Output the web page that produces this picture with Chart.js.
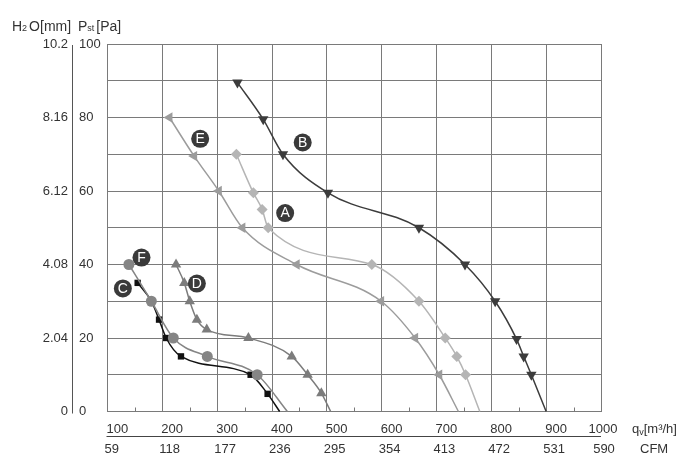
<!DOCTYPE html>
<html>
<head>
<meta charset="utf-8">
<script src="https://cdn.jsdelivr.net/npm/chart.js@4.4.0/dist/chart.umd.min.js"></script>
<style>
  body { margin: 0; background: #fff; }
  #wrap { width: 700px; height: 465px; }
</style>
</head>
<body>
<div id="wrap"><canvas id="fan" width="700" height="465"></canvas></div>
<script>
// eixos
const qvTicks = [100, 200, 300, 400, 500, 600, 700, 800, 900, 1000];
const cfmLabels = ['59', '118', '177', '236', '295', '354', '413', '472', '531', '590'];
const paTicks = [0, 20, 40, 60, 80, 100];
const mmLabels = ['0', '2.04', '4.08', '6.12', '8.16', '10.2'];

// curvas (qv m3/h, Pst Pa)
const aQv = [335, 366, 382, 393, 582, 668, 716, 737, 753, 779];
const aPa = [70, 59.5, 55, 50, 40, 30, 20, 15, 10, 0];
const bQv = [337, 384, 420, 502, 668, 752, 807, 846, 859, 873, 900];
const bPa = [89.5, 79.5, 70, 59.5, 50, 40, 30, 19.7, 15, 10, 0];
const cQv = [155, 180, 194, 207, 234, 361, 392, 414];
const cPa = [35, 30, 25, 20, 15, 10, 4.8, 0];
const dQv = [225, 240, 250, 263, 281, 357, 436, 465, 490, 507];
const dPa = [40, 35, 30, 25, 22.3, 20, 15, 10, 5, 0];
const eQv = [213, 258, 303, 346, 445, 599, 661, 705, 740];
const ePa = [80, 69.5, 60, 50, 40, 30, 20, 10, 0];
const fQv = [139, 180, 220, 282, 373, 428];
const fPa = [40, 30, 20, 15, 10, 0];

// etiquetas das curvas
const tagNames = ['A', 'B', 'C', 'D', 'E', 'F'];
const tagQv = [424, 456, 128, 263, 269, 162];
const tagPa = [54, 73.2, 33.5, 34.8, 74.2, 41.9];

const FONT = '"Liberation Sans", Arial, sans-serif';
const TEXT = '#333';

function pts(xs, ys) {
  return xs.map((x, i) => ({ x: x, y: ys[i] }));
}

function curve(label, xs, ys, color, style, rot, r) {
  const last = xs.length - 1;
  return {
    label: label,
    data: pts(xs, ys),
    borderColor: color,
    backgroundColor: color,
    borderWidth: 1.5,
    pointStyle: style,
    rotation: rot,
    pointRadius: c => c.dataIndex === last ? 0 : r,
    pointBorderWidth: 0,
    cubicInterpolationMode: 'monotone',
    clip: false
  };
}

const extras = {
  id: 'extras',
  afterDatasetsDraw(chart) {
    const ctx = chart.ctx;
    const x = chart.scales.x, y = chart.scales.y;
    ctx.save();
    tagNames.forEach((t, i) => {
      const px = x.getPixelForValue(tagQv[i]);
      const py = y.getPixelForValue(tagPa[i]);
      ctx.beginPath();
      ctx.arc(px, py, 9, 0, Math.PI * 2);
      ctx.fillStyle = '#3a3a3a';
      ctx.fill();
      ctx.fillStyle = '#fff';
      ctx.font = '14px ' + FONT;
      ctx.textAlign = 'center';
      ctx.textBaseline = 'middle';
      ctx.fillText(t, px, py + 0.5);
    });
    ctx.restore();
  },
  afterDraw(chart) {
    const ctx = chart.ctx;
    const x = chart.scales.x, y = chart.scales.y;
    const area = chart.chartArea;
    ctx.save();
    ctx.fillStyle = TEXT;
    ctx.font = '13px ' + FONT;
    ctx.textBaseline = 'middle';

    // eixo esquerdo: mm H2O e Pa
    paTicks.forEach((v, i) => {
      const py = y.getPixelForValue(v);
      ctx.textAlign = 'right';
      ctx.fillText(mmLabels[i], 68, py);
      ctx.textAlign = 'left';
      ctx.fillText(String(v), 79, py);
    });
    ctx.strokeStyle = '#555';
    ctx.lineWidth = 1;
    ctx.beginPath();
    ctx.moveTo(72.5, area.top + 1);
    ctx.lineTo(72.5, area.bottom + 2);
    ctx.stroke();

    // titulos
    ctx.textBaseline = 'alphabetic';
    ctx.textAlign = 'left';
    let cx = 12;
    const tb = 30.5;
    const run = (s, size, dy) => {
      ctx.font = size + 'px ' + FONT;
      ctx.fillText(s, cx, tb + dy);
      cx += ctx.measureText(s).width;
    };
    run('H', 14, 0); run('2', 9, 0); cx += 2; run('O[mm]', 14, 0);
    cx = 78;
    run('P', 14, 0); run('st', 9, 0); cx += 2; run('[Pa]', 14, 0);

    // eixo inferior
    ctx.font = '13px ' + FONT;
    qvTicks.forEach((v, i) => {
      const px = x.getPixelForValue(v);
      const lastOne = i === qvTicks.length - 1;
      ctx.textAlign = lastOne ? 'center' : 'left';
      const lx = lastOne ? px + 2 : px - 1;
      ctx.fillText(String(v), lx, 432.5);
      ctx.fillText(cfmLabels[i], lastOne ? px + 3 : px - 3, 453);
    });
    ctx.strokeStyle = '#444';
    ctx.beginPath();
    ctx.moveTo(area.left - 1, 436.5);
    ctx.lineTo(area.right, 436.5);
    ctx.stroke();

    // unidades
    ctx.textAlign = 'left';
    cx = 632;
    ctx.font = '13px ' + FONT;
    ctx.fillText('q', cx, 432.5);
    cx += ctx.measureText('q').width;
    ctx.font = '9px ' + FONT;
    ctx.fillText('v', cx, 434.5);
    cx += ctx.measureText('v').width;
    ctx.font = '13px ' + FONT;
    ctx.fillText('[m³/h]', cx, 432.5);
    ctx.fillText('CFM', 640, 453);

    // marcas menores
    ctx.strokeStyle = '#777';
    ctx.beginPath();
    for (let i = 0; i < qvTicks.length - 1; i++) {
      const px = Math.round(x.getPixelForValue(qvTicks[i] + 50)) + 0.5;
      ctx.moveTo(px, area.bottom);
      ctx.lineTo(px, area.bottom - 4);
    }
    ctx.stroke();
    ctx.restore();
  }
};

new Chart(document.getElementById('fan'), {
  type: 'line',
  data: {
    datasets: [
      curve('F', fQv, fPa, '#858585', 'circle', 0, 5.5),
      curve('C', cQv, cPa, '#111111', 'rect', 0, 4.5),
      curve('D', dQv, dPa, '#7c7c7c', 'triangle', 0, 6),
      curve('E', eQv, ePa, '#9c9c9c', 'triangle', 270, 6),
      curve('A', aQv, aPa, '#b5b5b5', 'rectRot', 0, 5.5),
      curve('B', bQv, bPa, '#3c3c3c', 'triangle', 180, 6)
    ]
  },
  options: {
    responsive: false,
    animation: false,
    layout: { padding: { left: 107.5, right: 99, top: 44, bottom: 53.5 } },
    plugins: { legend: { display: false }, tooltip: { enabled: false } },
    scales: {
      x: {
        type: 'linear',
        min: 100,
        max: 1000,
        ticks: { display: false, stepSize: 100 },
        grid: { color: '#7a7a7a', lineWidth: 1, drawTicks: false },
        border: { color: '#7a7a7a', width: 1 },
        afterFit: s => { s.height = 0; }
      },
      y: {
        min: 0,
        max: 100,
        ticks: { display: false, stepSize: 10 },
        grid: { color: '#7a7a7a', lineWidth: 1, drawTicks: false },
        border: { color: '#7a7a7a', width: 1 },
        afterFit: s => { s.height = s.height; s.width = 0; }
      }
    }
  },
  plugins: [extras]
});
</script>
</body>
</html>
